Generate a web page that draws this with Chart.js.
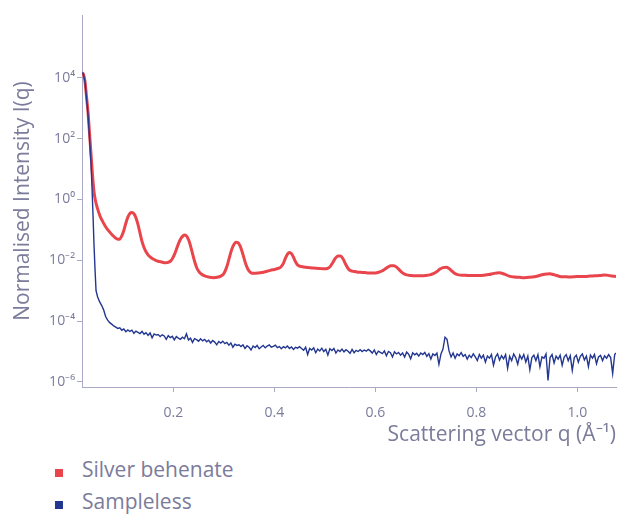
<!DOCTYPE html>
<html><head><meta charset="utf-8">
<script src="https://cdn.jsdelivr.net/npm/chart.js@4.4.1/dist/chart.umd.min.js"></script>
<style>
html,body{margin:0;padding:0;background:#fff;}
#wrap{position:relative;width:627px;height:514px;font-family:'Open Sans',sans-serif;overflow:hidden;}
#box{position:absolute;left:0;top:0;width:627px;height:450px;}
.leg{position:absolute;left:55px;font-size:21px;line-height:21px;color:#7b7b9b;white-space:nowrap;}
.leg i{position:absolute;left:0;top:10px;width:8px;height:8px;}
.leg span{position:absolute;left:27px;top:0;}
</style></head>
<body>
<div id="wrap">
  <div id="box"><canvas id="c"></canvas></div>
  <div class="leg" id="leg0" style="top:459px"><i></i><span></span></div>
  <div class="leg" id="leg1" style="top:491px"><i></i><span></span></div>
</div>
<script>
// ---- data ----
const seriesNames = ['Silver behenate', 'Sampleless'];
const seriesColors = ['#e9454c', '#233791'];

// Silver behenate: q (1/Å) and log10 of normalised intensity
const silverQ = [
0.0195,0.022,0.025,0.028,0.031,0.034,0.037,0.040,0.043,0.046,
0.050,0.055,0.060,0.065,0.070,0.075,0.080,0.085,0.090,0.094,
0.098,0.102,0.106,0.110,0.114,0.118,0.122,0.126,0.130,0.134,
0.138,0.142,0.146,0.150,0.155,0.160,0.165,0.170,0.175,0.180,
0.185,0.190,0.195,0.199,0.203,0.207,0.211,0.215,0.219,0.223,
0.227,0.231,0.235,0.239,0.243,0.247,0.252,0.258,0.265,0.272,
0.280,0.287,0.294,0.300,0.304,0.308,0.312,0.316,0.320,0.324,
0.328,0.332,0.336,0.340,0.344,0.348,0.353,0.360,0.368,0.376,
0.384,0.392,0.400,0.407,0.413,0.418,0.422,0.426,0.430,0.434,
0.438,0.442,0.446,0.450,0.458,0.466,0.474,0.482,0.490,0.498,
0.505,0.511,0.516,0.521,0.526,0.531,0.536,0.541,0.546,0.551,
0.558,0.566,0.574,0.582,0.590,0.598,0.605,0.612,0.619,0.625,
0.631,0.637,0.643,0.649,0.655,0.662,0.670,0.680,0.690,0.700,
0.708,0.715,0.722,0.728,0.734,0.740,0.746,0.752,0.758,0.765,
0.775,0.785,0.795,0.805,0.815,0.825,0.835,0.845,0.855,0.865,
0.875,0.885,0.895,0.905,0.915,0.925,0.935,0.945,0.955,0.965,
0.975,0.985,0.995,1.005,1.015,1.025,1.035,1.045,1.055,1.065,
1.0766];
const silverLog10I = [
4.17,4.12,3.9,3.4,2.9,2.2,1.5,0.8,0.25,-0.05,
-0.3,-0.55,-0.72,-0.87,-0.99,-1.09,-1.18,-1.26,-1.31,-1.3,
-1.2,-1.02,-0.78,-0.58,-0.46,-0.43,-0.47,-0.6,-0.82,-1.1,
-1.38,-1.58,-1.72,-1.82,-1.9,-1.96,-2.0,-2.03,-2.05,-2.07,
-2.08,-2.07,-2.02,-1.92,-1.78,-1.6,-1.42,-1.28,-1.2,-1.17,
-1.22,-1.36,-1.58,-1.84,-2.08,-2.27,-2.4,-2.48,-2.53,-2.56,
-2.57,-2.56,-2.52,-2.44,-2.3,-2.1,-1.85,-1.63,-1.48,-1.41,
-1.42,-1.52,-1.7,-1.93,-2.15,-2.3,-2.4,-2.43,-2.42,-2.4,
-2.37,-2.33,-2.3,-2.27,-2.22,-2.1,-1.93,-1.8,-1.74,-1.78,
-1.9,-2.05,-2.15,-2.19,-2.22,-2.24,-2.25,-2.26,-2.27,-2.28,
-2.27,-2.2,-2.07,-1.93,-1.86,-1.86,-1.95,-2.12,-2.27,-2.34,
-2.37,-2.39,-2.4,-2.41,-2.42,-2.42,-2.4,-2.36,-2.29,-2.22,
-2.18,-2.18,-2.24,-2.34,-2.43,-2.48,-2.5,-2.51,-2.51,-2.5,
-2.48,-2.44,-2.37,-2.29,-2.24,-2.23,-2.27,-2.36,-2.44,-2.48,
-2.49,-2.5,-2.5,-2.5,-2.49,-2.47,-2.43,-2.41,-2.45,-2.52,
-2.55,-2.56,-2.57,-2.56,-2.54,-2.5,-2.46,-2.44,-2.48,-2.53,
-2.54,-2.55,-2.54,-2.53,-2.53,-2.52,-2.51,-2.5,-2.48,-2.51,
-2.53];

// Sampleless: q (1/Å) and log10 of normalised intensity
const samplelessQ = [
0.0195,0.022,0.025,0.028,0.031,0.034,0.037,0.039,0.041,0.043,
0.045,0.047,0.050,0.054,0.058,0.062,0.066,0.070,0.074,0.078,
0.082,0.086,0.090,
0.094,0.098,0.102,0.106,0.110,0.114,0.118,0.122,0.126,0.130,
0.134,0.138,0.142,0.146,0.150,0.154,0.158,0.162,0.166,0.170,
0.174,0.178,0.182,0.186,0.190,0.194,0.198,0.202,0.206,0.210,
0.214,0.218,0.222,0.226,0.230,0.234,0.238,0.242,0.246,0.250,
0.254,0.258,0.262,0.266,0.270,0.274,0.278,0.282,0.286,0.290,
0.294,0.298,0.302,0.306,0.310,0.314,0.318,0.322,0.326,0.330,
0.334,0.338,0.342,0.346,0.350,0.354,0.358,0.362,0.366,0.370,
0.374,0.378,0.382,0.386,0.390,0.394,0.398,0.402,0.406,0.410,
0.414,0.418,0.422,0.426,0.430,0.434,0.438,0.442,0.446,0.450,
0.454,0.458,0.462,0.466,0.470,0.474,0.478,0.482,0.486,0.490,
0.494,0.498,0.502,0.506,0.510,0.514,0.518,0.522,0.526,0.530,
0.534,0.538,0.542,0.546,0.550,0.554,0.558,0.562,0.566,0.570,
0.574,0.578,0.582,0.586,0.590,0.594,0.598,0.602,0.606,0.610,
0.614,0.618,0.622,0.626,0.630,0.634,0.638,0.642,0.646,0.650,
0.654,0.658,0.662,0.666,0.670,0.674,0.678,0.682,0.686,0.690,
0.694,0.698,0.702,0.706,0.710,0.714,0.718,0.722,0.726,0.730,
0.734,0.738,0.742,0.746,0.750,0.754,0.758,0.762,0.766,0.770,
0.774,0.778,0.782,0.786,0.790,0.794,0.798,0.802,0.806,0.810,
0.814,0.818,0.822,0.826,0.830,0.834,0.838,0.842,0.846,0.850,
0.854,0.858,0.862,0.866,0.870,0.874,0.878,0.882,0.886,0.890,
0.894,0.898,0.902,0.906,0.910,0.914,0.918,0.922,0.926,0.930,
0.934,0.938,0.942,0.946,0.950,0.954,0.958,0.962,0.966,0.970,
0.974,0.978,0.982,0.986,0.990,0.994,0.998,1.002,1.006,1.010,
1.014,1.018,1.022,1.026,1.030,1.034,1.038,1.042,1.046,1.050,
1.054,1.058,1.062,1.066,1.070,1.074,1.0766];
const samplelessLog10I = [
4.17,4.12,3.88,3.35,2.8,2.05,1.2,0.4,-0.5,-1.5,
-2.3,-3.0,-3.2,-3.36,-3.48,-3.63,-3.85,-3.97,-4.05,-4.1,
-4.16,-4.2,-4.24,
-4.22,-4.3,-4.26,-4.35,-4.29,-4.34,-4.3,-4.4,-4.33,-4.37,
-4.41,-4.34,-4.43,-4.38,-4.47,-4.39,-4.55,-4.42,-4.46,-4.44,
-4.51,-4.45,-4.49,-4.6,-4.48,-4.54,-4.5,-4.62,-4.51,-4.56,
-4.6,-4.53,-4.58,-4.42,-4.62,-4.56,-4.7,-4.58,-4.61,-4.66,
-4.58,-4.65,-4.6,-4.68,-4.63,-4.72,-4.64,-4.69,-4.78,-4.67,
-4.72,-4.66,-4.74,-4.7,-4.79,-4.72,-4.86,-4.76,-4.8,-4.78,
-4.84,-4.78,-4.9,-4.81,-4.86,-4.95,-4.82,-4.87,-4.8,-4.91,
-4.85,-4.8,-4.88,-4.82,-4.78,-4.86,-4.83,-4.79,-4.87,-4.84,
-4.91,-4.84,-4.88,-4.82,-4.9,-4.85,-4.93,-4.86,-4.89,-4.84,
-4.9,-4.96,-4.86,-5.1,-4.9,-4.95,-4.88,-5.04,-4.92,-4.98,
-4.89,-5.0,-4.93,-5.12,-4.91,-4.97,-4.9,-5.05,-4.95,-5.0,
-4.92,-5.01,-4.94,-4.99,-5.06,-4.93,-5.04,-4.96,-5.0,-4.94,
-5.0,-4.95,-4.99,-4.93,-4.98,-5.05,-4.95,-5.1,-4.99,-5.03,
-5.07,-4.98,-5.14,-5.0,-5.04,-5.18,-5.01,-5.08,-5.03,-5.12,
-5.05,-5.18,-5.02,-5.09,-5.24,-5.04,-5.11,-5.06,-5.15,-5.05,
-5.1,-5.03,-5.16,-5.07,-5.25,-5.08,-5.13,-5.05,-5.42,-5.08,
-4.92,-4.53,-4.6,-4.98,-5.18,-5.05,-5.22,-5.08,-5.14,-5.04,
-5.16,-5.1,-5.25,-5.12,-5.2,-5.08,-5.18,-5.3,-5.1,-5.22,
-5.12,-5.35,-5.15,-5.22,-5.1,-5.45,-5.18,-5.08,-5.28,-5.14,
-5.24,-5.1,-5.55,-5.16,-5.3,-5.08,-5.2,-5.42,-5.12,-5.25,
-5.1,-5.35,-5.15,-5.6,-5.2,-5.12,-5.3,-5.1,-5.5,-5.18,
-5.22,-5.08,-5.95,-5.2,-5.1,-5.38,-5.15,-5.25,-5.12,-5.45,
-5.18,-5.1,-5.3,-5.14,-5.62,-5.2,-5.12,-5.35,-5.16,-5.08,
-5.28,-5.15,-5.5,-5.12,-5.22,-5.1,-5.4,-5.18,-5.13,-5.3,
-5.14,-5.22,-5.1,-5.2,-5.72,-5.1,-5.05];

const yTickValues = [1e-6, 1e-4, 1e-2, 1, 1e2, 1e4];
const yTickLabels = ['10⁻⁶', '10⁻⁴', '10⁻²', '10⁰', '10²', '10⁴'];
const xTickValues = [0.2, 0.4, 0.6, 0.8, 1.0];
const xTickLabels = ['0.2', '0.4', '0.6', '0.8', '1.0'];
const xTitle = 'Scattering vector q (Å⁻¹)';
const yTitle = 'Normalised Intensity I(q)';

// ---- chart ----
const textColor = '#7b7b9b';
const axisColor = '#aaaac6';

function toPoints(qs, logs) {
  return qs.map((q, i) => ({ x: q, y: Math.pow(10, logs[i]) }));
}

Chart.defaults.font.family = "'Open Sans', sans-serif";

new Chart(document.getElementById('c'), {
  type: 'line',
  data: {
    datasets: [
      {
        label: seriesNames[0],
        data: toPoints(silverQ, silverLog10I),
        borderColor: seriesColors[0],
        backgroundColor: seriesColors[0],
        borderWidth: 3,
        pointRadius: 0,
        cubicInterpolationMode: 'monotone',
        order: 2
      },
      {
        label: seriesNames[1],
        data: toPoints(samplelessQ, samplelessLog10I),
        borderColor: seriesColors[1],
        backgroundColor: seriesColors[1],
        borderWidth: 1.4,
        pointRadius: 0,
        tension: 0,
        order: 1
      }
    ]
  },
  options: {
    responsive: true,
    maintainAspectRatio: false,
    animation: false,
    devicePixelRatio: 1,
    layout: { padding: { left: 0, right: 11, top: 15, bottom: 0 } },
    plugins: { legend: { display: false }, tooltip: { enabled: false } },
    scales: {
      x: {
        type: 'linear',
        min: 0.0192,
        max: 1.0766,
        afterFit: s => { s.height = 63; },
        afterBuildTicks: s => { s.ticks = xTickValues.map(v => ({ value: v })); },
        ticks: {
          autoSkip: false,
          maxRotation: 0,
          padding: 13,
          color: textColor,
          font: { size: 14 },
          callback: v => xTickLabels[xTickValues.indexOf(v)]
        },
        grid: { display: true, drawOnChartArea: false, drawTicks: true, tickLength: 5, color: axisColor },
        border: { display: true, color: axisColor, width: 1 },
        title: {
          display: true, text: xTitle, align: 'end', color: textColor,
          font: { size: 21 }, padding: { top: 0, bottom: 2 }
        }
      },
      y: {
        type: 'logarithmic',
        min: 6.8e-7,
        max: 1.17e6,
        afterFit: s => { s.width = 82; },
        afterBuildTicks: s => { s.ticks = yTickValues.map(v => ({ value: v })); },
        ticks: {
          autoSkip: false,
          padding: 2,
          color: textColor,
          font: { size: 14 },
          callback: v => yTickLabels[yTickValues.indexOf(v)]
        },
        grid: { display: true, drawOnChartArea: false, drawTicks: true, tickLength: 5, color: axisColor },
        border: { display: true, color: axisColor, width: 1 },
        title: {
          display: true, text: yTitle, color: textColor,
          font: { size: 21 }, padding: { top: 10, bottom: 0 }
        }
      }
    }
  }
});

// HTML legend built from the series arrays
seriesNames.forEach((name, i) => {
  const el = document.getElementById('leg' + i);
  el.querySelector('i').style.background = seriesColors[i];
  el.querySelector('span').textContent = name;
});
</script>
</body></html>
